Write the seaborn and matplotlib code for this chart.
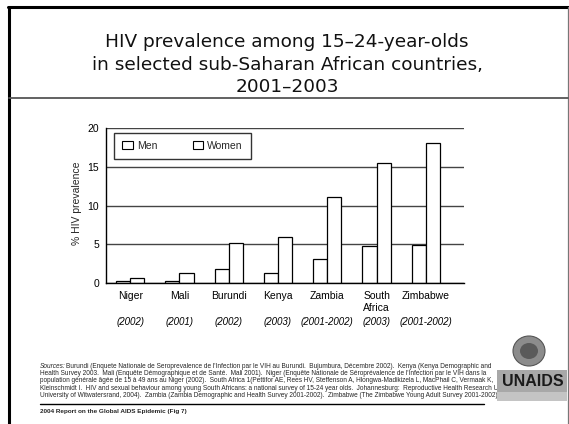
import matplotlib
matplotlib.use("Agg")
import matplotlib.pyplot as plt
import matplotlib.patches as mpatches
from matplotlib.lines import Line2D
from matplotlib.transforms import blended_transform_factory
import seaborn as sns
import pandas as pd

# --- data -------------------------------------------------------------
countries = ["Niger", "Mali", "Burundi", "Kenya", "Zambia", "South\nAfrica", "Zimbabwe"]
survey_years = ["(2002)", "(2001)", "(2002)", "(2003)", "(2001-2002)", "(2003)", "(2001-2002)"]
men = [0.3, 0.3, 1.8, 1.3, 3.1, 4.8, 4.9]
women = [0.7, 1.3, 5.2, 5.9, 11.1, 15.5, 18.0]
series_names = ["Men", "Women"]
y_ticks = [0, 5, 10, 15, 20]

title_lines = [
    "HIV prevalence among 15\u201324-year-olds",
    "in selected sub-Saharan African countries,",
    "2001\u20132003",
]
sources_lines = [
    "Burundi (Enquete Nationale de Seroprevalence de l'Infection par le VIH au Burundi.  Bujumbura, D\u00e9cembre 2002).  Kenya (Kenya Demographic and",
    "Health Survey 2003.  Mali (Enqu\u00eate D\u00e9mographique et de Sant\u00e9.  Mali 2001).  Niger (Enqu\u00eate Nationale de S\u00e9ropr\u00e9valence de l'Infection par le VIH dans la",
    "population g\u00e9n\u00e9rale \u00e2g\u00e9e de 15 \u00e0 49 ans au Niger (2002).  South Africa 1(Pettifor AE, Rees HV, Steffenson A, Hlongwa-Madikizela L, MacPhail C, Vermaak K,",
    "Kleinschmidt I.  HIV and sexual behaviour among young South Africans: a national survey of 15-24 year olds.  Johannesburg:  Reproductive Health Research Unit,",
    "University of Witwatersrand, 2004).  Zambia (Zambia Demographic and Health Survey 2001-2002).  Zimbabwe (The Zimbabwe Young Adult Survey 2001-2002).",
]
report_note = "2004 Report on the Global AIDS Epidemic (Fig 7)"

df = pd.DataFrame({
    "country": countries * 2,
    "sex": [series_names[0]] * len(countries) + [series_names[1]] * len(countries),
    "value": men + women,
})

# --- figure -----------------------------------------------------------
sns.set_style("white")
plt.rcParams["font.family"] = ["Liberation Sans", "DejaVu Sans"]

W, H = 569, 424
fig = plt.figure(figsize=(W / 100, H / 100), dpi=100)
fig.patch.set_facecolor("white")


def fx(px):
    return px / W


def fy(py):
    return 1 - py / H


# slide frame
fig.add_artist(Line2D([fx(9), fx(9)], [fy(7), fy(424)], color="black", lw=2.2))
fig.add_artist(Line2D([fx(8), fx(568.5)], [fy(7), fy(7)], color="black", lw=2.2))
fig.add_artist(Line2D([fx(568), fx(568)], [fy(7), fy(424)], color="#777777", lw=0.9))
fig.add_artist(Line2D([fx(9), fx(568)], [fy(97.5), fy(97.5)], color="#555555", lw=1.3, zorder=5))

# title
for i, line in enumerate(title_lines):
    fig.text(fx(287), fy(42 + i * 22.5), line, ha="center", va="center",
             fontsize=13.3, color="#111111", family=["DejaVu Sans"])

# chart
ax = fig.add_axes([fx(105.5), fy(283), fx(464.3) - fx(105.5), fy(128) - fy(283)])
sns.barplot(data=df, x="country", y="value", hue="sex", hue_order=series_names,
            palette=["white", "white"], saturation=1, edgecolor="black",
            linewidth=0.9, width=0.575, ax=ax, legend=False, errorbar=None)

ax.set_ylim(0, 20)
ax.set_xlim(-0.5, 6.78)
ax.set_yticks(y_ticks)
ax.set_axisbelow(True)
ax.yaxis.grid(True, color="#444444", lw=1.0)
ax.xaxis.grid(False)
for side in ["top", "right"]:
    ax.spines[side].set_visible(False)
ax.spines["left"].set_color("black")
ax.spines["bottom"].set_color("black")
ax.spines["left"].set_linewidth(1.0)
ax.spines["bottom"].set_linewidth(1.0)
ax.tick_params(axis="both", length=0, labelsize=7.5, colors="black")
ax.tick_params(axis="y", pad=4.5)
ax.tick_params(axis="x", pad=6.0)
ax.set_xlabel("")
ax.set_ylabel("")
ax.set_xticks(range(len(countries)))
ax.set_xticklabels(countries, linespacing=1.2)

trans = blended_transform_factory(ax.transData, ax.transAxes)
for i, yr in enumerate(survey_years):
    ax.text(i, -0.2516, yr, transform=trans, ha="center", va="center",
            fontsize=7, style="italic", color="black")

fig.text(fx(77), fy(203), "% HIV prevalence", rotation=90, ha="center",
         va="center", fontsize=7.5)

handles = [mpatches.Patch(facecolor="white", edgecolor="black", lw=0.8) for _ in series_names]
leg = ax.legend(handles, series_names, ncol=2, loc="upper left",
                bbox_to_anchor=(0.024, 0.97), frameon=True, fancybox=False,
                fontsize=7.5, handlelength=1.0, handleheight=0.8, handletextpad=0.4,
                columnspacing=3.4, borderpad=0.8, borderaxespad=0)
leg.get_frame().set_edgecolor("black")
leg.get_frame().set_linewidth(1.0)

# sources block
src_size = 4.7
fig.text(fx(40), fy(366), "Sources:", ha="left", va="center", fontsize=src_size,
         style="italic")
for i, line in enumerate(sources_lines):
    x0 = 66 if i == 0 else 40
    fig.text(fx(x0), fy(366 + i * 7.4), line, ha="left", va="center",
             fontsize=src_size, zorder=1)
fig.add_artist(Line2D([fx(40), fx(484)], [fy(404), fy(404)], color="black", lw=1.0))
fig.text(fx(40), fy(411), report_note, ha="left", va="center", fontsize=4.6,
         weight="bold")

# organisation mark
fig.add_artist(mpatches.Ellipse((fx(529), fy(351)), fx(32), 30 / H,
                                facecolor="#8c8c8c", edgecolor="#555555", lw=0.8, zorder=6))
fig.add_artist(mpatches.Ellipse((fx(529), fy(351)), fx(18), 16 / H,
                                facecolor="#5a5a5a", edgecolor="none", zorder=7))
fig.add_artist(mpatches.Rectangle((fx(497), fy(401)), fx(70), 31 / H,
                                  facecolor="#a8a8a8", edgecolor="none", zorder=6))
fig.add_artist(mpatches.Rectangle((fx(497), fy(401)), fx(70), 9 / H,
                                  facecolor="#c4c4c4", edgecolor="none", zorder=7))
fig.text(fx(533), fy(381), "UNAIDS", ha="center", va="center", fontsize=11.5,
         weight="bold", color="#1a1a1a", zorder=8)

fig.savefig("out.png", dpi=100, facecolor="white")
